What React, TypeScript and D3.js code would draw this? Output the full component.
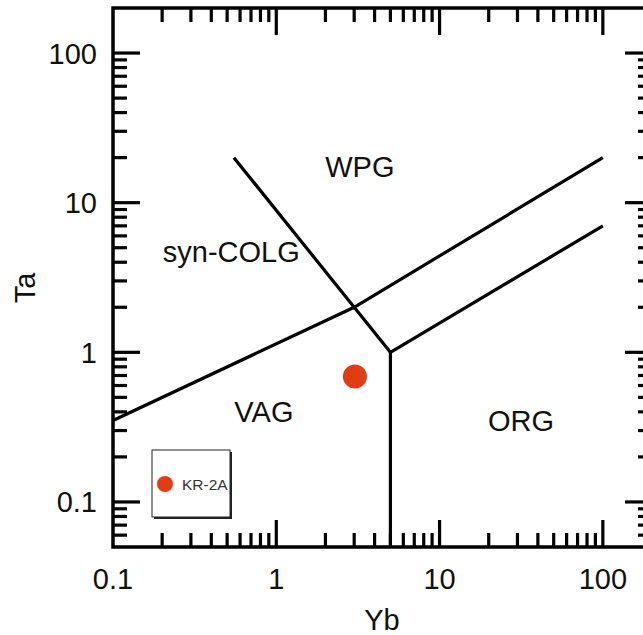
import React from "react";
import * as d3 from "d3";

const W = 643;
const H = 635;

// Axis domains
const xDomain: [number, number] = [0.1, 200];
const yDomain: [number, number] = [0.05, 200];
const xTickLabels = [0.1, 1, 10, 100];
const yTickLabels = [0.1, 1, 10, 100];

// Field boundaries (Yb, Ta)
const boundaryVagSyn: [number, number][] = [[0.1, 0.35], [3, 2], [100, 20]];
const boundaryWpg: [number, number][] = [[0.55, 20], [3, 2], [5, 1]];
const boundaryOrgWpg: [number, number][] = [[5, 1], [100, 7]];
const boundaryVagOrg: [number, number][] = [[5, 1], [5, 0.05]];
const boundaries = [boundaryVagSyn, boundaryWpg, boundaryOrgWpg, boundaryVagOrg];

// Field labels (Yb, Ta of label anchor)
const fieldNames = ["WPG", "syn-COLG", "VAG", "ORG"];
const fieldPos: [number, number][] = [[3.25, 14.9], [0.53, 4.0], [0.84, 0.343], [31.5, 0.298]];

// Samples
const sampleNames = ["KR-2A"];
const sampleYb = [3.03];
const sampleTa = [0.69];
const sampleColor = "#e23c14";

const FONT = "'Liberation Sans', Arial, Helvetica, sans-serif";

export default function App() {
  const x = d3.scaleLog().domain(xDomain).range([113, 652]);
  const y = d3.scaleLog().domain(yDomain).range([547, 8]);
  const line = d3
    .line<[number, number]>()
    .x((d) => x(d[0]))
    .y((d) => y(d[1]));

  const isMajor = (v: number) => Math.abs(Math.log10(v) - Math.round(Math.log10(v))) < 1e-9;
  const xTicks = x.ticks().filter((v) => v > xDomain[0] && v < xDomain[1]);
  const yTicks = y.ticks().filter((v) => v > yDomain[0] && v < yDomain[1]);
  const [x0, x1] = x.range();
  const [y0, y1] = y.range();
  const MAJ = 27;
  const MIN = 14;
  const fmt = (v: number) => (v < 1 ? String(v) : d3.format("d")(v));

  return (
    <svg width={W} height={H} style={{ display: "block", position: "absolute", left: 0, top: 0, background: "#fff" }}>
      <rect x={0} y={0} width={W} height={H} fill="#fff" />
      <g stroke="#000" strokeWidth={3.2} fill="none" strokeLinecap="butt">
        {xTicks.map((v, i) => {
          const L = isMajor(v) ? MAJ : MIN;
          return (
            <g key={"xt" + i}>
              <line x1={x(v)} x2={x(v)} y1={y0} y2={y0 - L} />
              <line x1={x(v)} x2={x(v)} y1={y1} y2={y1 + L} />
            </g>
          );
        })}
        {yTicks.map((v, i) => {
          const L = isMajor(v) ? MAJ : MIN;
          return (
            <g key={"yt" + i}>
              <line x1={x0} x2={x0 + L} y1={y(v)} y2={y(v)} />
              <line x1={x1} x2={x1 - L} y1={y(v)} y2={y(v)} />
            </g>
          );
        })}
        <rect x={x0} y={y1} width={x1 - x0} height={y0 - y1} strokeWidth={3.5} />
        {boundaries.map((b, i) => (
          <path key={"b" + i} d={line(b) || ""} strokeLinejoin="miter" />
        ))}
      </g>
      <g fontFamily={FONT} fontSize={29} fill="#111">
        {xTickLabels.map((v) => (
          <text key={"xl" + v} x={x(v)} y={589} textAnchor="middle">
            {fmt(v)}
          </text>
        ))}
        {yTickLabels.map((v) => (
          <text key={"yl" + v} x={97} y={y(v) + 10.5} textAnchor="end">
            {fmt(v)}
          </text>
        ))}
        <text x={382} y={630} textAnchor="middle">Yb</text>
        <text transform="translate(35,288) rotate(-90)" textAnchor="middle">Ta</text>
        {fieldNames.map((n, i) => (
          <text key={n} x={x(fieldPos[i][0])} y={y(fieldPos[i][1])} textAnchor="middle">
            {n}
          </text>
        ))}
      </g>
      {sampleNames.map((n, i) => (
        <circle key={n} cx={x(sampleYb[i])} cy={y(sampleTa[i])} r={12} fill={sampleColor} />
      ))}
      <g>
        <rect x={154} y={452} width={78} height={67} fill="#222" />
        <rect x={152} y={450} width={78} height={67} fill="#fff" stroke="#222" strokeWidth={1} />
        {sampleNames.map((n, i) => (
          <g key={"lg" + n}>
            <circle cx={165} cy={484} r={8} fill={sampleColor} />
            <text x={182} y={489.5} fontFamily={FONT} fontSize={15.5} fill="#333">
              {n}
            </text>
          </g>
        ))}
      </g>
    </svg>
  );
}
